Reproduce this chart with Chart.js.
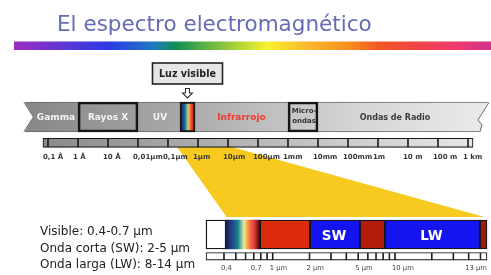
<!DOCTYPE html>
<html><head><meta charset="utf-8">
<script src="https://cdn.jsdelivr.net/npm/chart.js@4.4.1/dist/chart.umd.min.js"></script>
<style>html,body{margin:0;padding:0;background:#fff;overflow:hidden}canvas{display:block}</style>
</head><body>
<canvas id="c" width="491" height="275"></canvas>
<script>
// ---------- DATA ----------
const titleText = 'El espectro electromagnético';
// main spectrum bands (wavelength in metres)
const bandNames = ['Gamma', 'Rayos X', 'UV', 'Visible', 'Infrarrojo', 'Micro-ondas', 'Ondas de Radio'];
const bandStart = [1.58e-12, 1e-10, 1e-8, 2.51e-7, 7.94e-7, 1e-3, 1e-2];
const bandEnd   = [1e-10, 1e-8, 2.51e-7, 7.94e-7, 1e-3, 1e-2, 5400];
const boxedBands = ['Rayos X', 'Visible', 'Micro-ondas'];
// wavelength ruler (metres)
const rulerTicks = [1e-11, 1e-10, 1e-9, 1e-8, 1e-7, 1e-6, 1e-5, 1e-4, 1e-3, 1e-2, 1e-1, 1, 10, 100, 1000];
const rulerLabels = ['0,1 Å', '1 Å', '10 Å', '0,01µm', '0,1µm', '1µm', '10µm', '100µm', '1mm', '10mm', '100mm', '1m', '10 m', '100 m', '1 km'];
const rulerEnds = [6.8e-12, 1470];
// zoomed detail (micrometres)
const detailNames = ['', 'Visible', 'NIR', 'SW', 'MW', 'LW', 'FIR'];
const detailStart = [0.285, 0.415, 0.788, 2.02, 5.18, 8.28, 49.5];
const detailEnd   = [0.415, 0.788, 2.02, 5.18, 8.28, 49.5, 56.5];
const detailTicks = [0.285, 0.4, 0.5, 0.6, 0.7, 0.8, 0.9, 1, 2, 3, 4, 5, 6, 7, 8, 9, 10, 20, 30, 40, 50, 56.5];
const detailLabelValues = [0.4, 0.7, 1, 2, 5, 10, 50];
const detailLabels = ['0,4', '0,7', '1 µm', '2 µm', '5 µm', '10 µm', '13 µm'];
// zoom window: from main-spectrum range to detail range
const zoomFromTop = [2e-7, 1.35e-5];
const zoomToDetail = [0.42, 54];
const notes = ['Visible: 0.4-0.7 µm', 'Onda corta (SW): 2-5 µm', 'Onda larga (LW): 8-14 µm'];

// ---------- LAYOUT / STYLE ----------
const ROW = {band: 117, bandH: 30, ruler: 142.8, rulerH: 9, rulerLbl: 157,
  detail: 234.5, detailH: 29, detRuler: 256.3, detRulerH: 7.5, detLbl: 268,
  zoomTop: 147, zoomBot: 217};
const detailColors = ['#ffffff', null, '#dc2a0c', '#1414ee', '#b31c0c', '#1414ee', '#a01a0a'];

function pairs(arr){ const out=[]; for(let i=0;i<arr.length-1;i++) out.push([arr[i],arr[i+1]]); return out; }

const bandData = [{x: [bandStart[0], bandEnd[bandEnd.length-1]], y: ROW.band}];
const boxData = boxedBands.map(n => { const i = bandNames.indexOf(n); return {x: [bandStart[i], bandEnd[i]], y: ROW.band, name: n}; });
const rulerData = pairs([rulerEnds[0], ...rulerTicks, rulerEnds[1]]).map(p => ({x: p, y: ROW.ruler}));
const detailData = detailStart.map((s, i) => ({x: [s, detailEnd[i]], y: ROW.detail}));
const detRulerData = pairs(detailTicks).map(p => ({x: p, y: ROW.detRuler}));

function grad(chart, scale, a, b, stops, fallback){
  const s = chart.scales[scale];
  if (!s) return fallback;
  const p1 = s.getPixelForValue(a), p2 = s.getPixelForValue(b);
  if (!isFinite(p1) || !isFinite(p2) || p1 === p2) return fallback;
  const g = chart.ctx.createLinearGradient(p1, 0, p2, 0);
  stops.forEach(([o, c]) => g.addColorStop(o, c));
  return g;
}
const visTopStops = [[0,'#15194a'],[0.15,'#1d2f8a'],[0.35,'#1f7a8e'],[0.5,'#9ac8a0'],[0.6,'#f2b04a'],[0.75,'#ee4a34'],[0.9,'#d8261c'],[1,'#8a1010']];
const visDetStops = [[0,'#1a1a48'],[0.1,'#22307c'],[0.25,'#1e5a8c'],[0.36,'#1a8888'],[0.46,'#86c4a2'],[0.53,'#efe6a2'],[0.62,'#f4ac4e'],[0.72,'#f06842'],[0.82,'#e63e3e'],[0.92,'#9a1c18'],[1,'#1e0e0e']];

const spectrumPlugin = {
  id: 'spectrum',
  beforeDatasetsDraw(chart){
    const c = chart.ctx, xT = chart.scales.xTop, xB = chart.scales.xBot, y = chart.scales.y;
    c.save();
    // coloured underline of the title
    const g = c.createLinearGradient(14, 0, 491, 0);
    [[0,'#9a2fc0'],[0.2,'#2b3ae6'],[0.29,'#1f78c4'],[0.34,'#109050'],[0.44,'#8cc63f'],[0.53,'#f7f22e'],[0.62,'#f9b52a'],[0.7,'#f7901e'],[0.76,'#f15a24'],[0.84,'#f04444'],[0.92,'#ef3a6a'],[1,'#d4308f']]
      .forEach(([o, col]) => g.addColorStop(o, col));
    c.fillStyle = g;
    c.fillRect(14, y.getPixelForValue(41.5), 477, y.getPixelForValue(50) - y.getPixelForValue(41.5));
    // zoom trapezoid
    c.beginPath();
    c.moveTo(xT.getPixelForValue(zoomFromTop[0]), y.getPixelForValue(ROW.zoomTop));
    c.lineTo(xT.getPixelForValue(zoomFromTop[1]), y.getPixelForValue(ROW.zoomTop));
    c.lineTo(xB.getPixelForValue(zoomToDetail[1]), y.getPixelForValue(ROW.zoomBot));
    c.lineTo(xB.getPixelForValue(zoomToDetail[0]), y.getPixelForValue(ROW.zoomBot));
    c.closePath();
    c.fillStyle = '#f8c91f';
    c.fill();
    c.restore();
  },
  afterDatasetsDraw(chart){
    const c = chart.ctx, xT = chart.scales.xTop, xB = chart.scales.xBot, y = chart.scales.y;
    const top = ROW.band - ROW.bandH/2, bot = ROW.band + ROW.bandH/2;
    c.save();
    // left notch
    const lx = xT.getPixelForValue(bandStart[0]);
    c.fillStyle = '#fff';
    c.beginPath(); c.moveTo(lx-3, top-1); c.lineTo(lx, top-1); c.lineTo(lx+9.5, ROW.band); c.lineTo(lx, bot+1); c.lineTo(lx-3, bot+1); c.closePath(); c.fill();
    c.strokeStyle = '#6a6a6a'; c.lineWidth = 1;
    c.beginPath(); c.moveTo(lx, top+0.5); c.lineTo(lx+9.5, ROW.band); c.lineTo(lx, bot-0.5); c.stroke();
    // right torn edge
    const rx = xT.getPixelForValue(bandEnd[bandEnd.length-1]);
    c.beginPath(); c.moveTo(rx-1, top-1); c.lineTo(rx-12, ROW.band+3); c.lineTo(rx-8, ROW.band+8); c.lineTo(rx-10, bot+1); c.lineTo(492, bot+1); c.lineTo(492, top-1); c.closePath(); c.fill();
    c.beginPath(); c.moveTo(rx-1, top+0.5); c.lineTo(rx-12, ROW.band+3); c.lineTo(rx-8, ROW.band+8); c.lineTo(rx-10, bot-0.5); c.stroke();

    // band labels
    const labelStyle = {
      'Gamma': ['#f4f4f4', 'bold 9px "DejaVu Sans"', 5],
      'Rayos X': ['#f4f4f4', 'bold 9px "DejaVu Sans"', 0],
      'UV': ['#f4f4f4', 'bold 9px "DejaVu Sans"', 1],
      'Infrarrojo': ['#f23a30', 'bold 9px "DejaVu Sans"', 0],
      'Ondas de Radio': ['#3c3c3c', 'bold 8px "DejaVu Sans"', -9]
    };
    c.textAlign = 'center'; c.textBaseline = 'middle';
    bandNames.forEach((n, i) => {
      const cx = (xT.getPixelForValue(bandStart[i]) + xT.getPixelForValue(bandEnd[i])) / 2;
      if (labelStyle[n]) {
        const [col, font, dx] = labelStyle[n];
        c.fillStyle = col; c.font = font;
        c.fillText(n, cx + dx, y.getPixelForValue(ROW.band + 1));
      } else if (n === 'Micro-ondas') {
        c.fillStyle = '#333'; c.font = 'bold 7px "DejaVu Sans"';
        c.fillText('Micro-', cx + 1, y.getPixelForValue(ROW.band - 5.5));
        c.fillText('ondas', cx + 1, y.getPixelForValue(ROW.band + 4.5));
      }
    });
    // "Luz visible" callout
    const vi = bandNames.indexOf('Visible');
    const vx = (xT.getPixelForValue(bandStart[vi]) + xT.getPixelForValue(bandEnd[vi])) / 2;
    c.fillStyle = '#e6e6e6'; c.fillRect(vx - 35, 63, 70, 21);
    c.strokeStyle = '#222'; c.lineWidth = 1.6; c.strokeRect(vx - 35, 63, 70, 21);
    c.fillStyle = '#222'; c.font = 'bold 9.6px "DejaVu Sans"';
    c.fillText('Luz visible', vx, 74);
    c.lineWidth = 1.1; c.strokeStyle = '#333';
    c.beginPath();
    c.moveTo(vx - 2, 88.5); c.lineTo(vx + 2, 88.5); c.lineTo(vx + 2, 93); c.lineTo(vx + 5, 93);
    c.lineTo(vx, 98); c.lineTo(vx - 5, 93); c.lineTo(vx - 2, 93); c.closePath(); c.stroke();

    // wavelength ruler labels
    c.textAlign = 'left'; c.fillStyle = '#383838'; c.font = 'bold 7px "DejaVu Sans"';
    rulerTicks.forEach((v, i) => c.fillText(rulerLabels[i], xT.getPixelForValue(v) - 5, y.getPixelForValue(ROW.rulerLbl)));

    // detail labels
    c.textAlign = 'center'; c.fillStyle = '#ffffff'; c.font = 'bold 13.5px "DejaVu Sans"';
    ['SW', 'LW'].forEach(n => {
      const i = detailNames.indexOf(n);
      const cx = (xB.getPixelForValue(detailStart[i]) + xB.getPixelForValue(detailEnd[i])) / 2;
      c.fillText(n, cx - 1, y.getPixelForValue(ROW.detail + 1.5));
    });
    c.textAlign = 'left'; c.fillStyle = '#444'; c.font = '6.8px "DejaVu Sans"';
    const rightEnd = xB.getPixelForValue(detailEnd[detailEnd.length-1]);
    detailLabelValues.forEach((v, i) => {
      const w = c.measureText(detailLabels[i]).width;
      const x = Math.min(xB.getPixelForValue(v) - 3, rightEnd - w);
      c.fillText(detailLabels[i], x, y.getPixelForValue(ROW.detLbl));
    });

    // notes
    c.fillStyle = '#222'; c.font = '12px "DejaVu Sans"'; c.textBaseline = 'alphabetic';
    notes.forEach((t, i) => c.fillText(t, 40, 235 + i * 16.5));

    // title
    c.font = '100px "DejaVu Sans"';
    const fs = 100 * 315 / c.measureText(titleText).width;
    c.font = fs.toFixed(2) + 'px "DejaVu Sans"';
    c.fillStyle = '#666cb4';
    c.fillText(titleText, 57, 30.5);
    c.restore();
  }
};

const common = {grouped: false, borderSkipped: false, yAxisID: 'y'};
new Chart(document.getElementById('c'), {
  type: 'bar',
  data: {
    datasets: [
      Object.assign({}, common, {label: 'boxes', order: 1, xAxisID: 'xTop', data: boxData, barThickness: ROW.bandH,
        backgroundColor: ctx => (ctx.raw && ctx.raw.name === 'Visible') ? grad(ctx.chart, 'xTop', ctx.raw.x[0], ctx.raw.x[1], visTopStops, '#c03030') : 'rgba(0,0,0,0)',
        borderColor: '#161616', borderWidth: 2}),
      Object.assign({}, common, {label: 'band', order: 5, xAxisID: 'xTop', data: bandData, barThickness: ROW.bandH,
        backgroundColor: ctx => grad(ctx.chart, 'xTop', bandStart[0], bandEnd[bandEnd.length-1], [[0,'#868686'],[0.35,'#aaaaaa'],[0.7,'#d4d4d4'],[1,'#ebebeb']], '#b0b0b0'),
        borderColor: '#6a6a6a', borderWidth: 1}),
      Object.assign({}, common, {label: 'ruler', order: 3, xAxisID: 'xTop', data: rulerData, barThickness: ROW.rulerH,
        backgroundColor: ctx => grad(ctx.chart, 'xTop', rulerEnds[0], rulerEnds[1], [[0,'#8a8a8a'],[0.5,'#b8b8b8'],[1,'#e8e8e8']], '#b8b8b8'),
        borderColor: '#161616', borderWidth: 1.1}),
      Object.assign({}, common, {label: 'detail', order: 3, xAxisID: 'xBot', data: detailData, barThickness: ROW.detailH,
        backgroundColor: ctx => ctx.dataIndex === 1 ? grad(ctx.chart, 'xBot', detailStart[1], detailEnd[1], visDetStops, '#e08040') : (detailColors[ctx.dataIndex] || '#fff'),
        borderColor: '#161616', borderWidth: ctx => ctx.dataIndex === 1 ? 0 : 1.4}),
      Object.assign({}, common, {label: 'detailRuler', order: 3, xAxisID: 'xBot', data: detRulerData, barThickness: ROW.detRulerH,
        backgroundColor: '#ffffff', borderColor: '#161616', borderWidth: 1.1})
    ]
  },
  options: {
    indexAxis: 'y',
    responsive: false,
    animation: false,
    events: [],
    layout: {padding: 0},
    plugins: {legend: {display: false}, tooltip: {enabled: false}, title: {display: false}},
    scales: {
      xTop: {axis: 'x', type: 'logarithmic', display: false, bounds: 'data', beginAtZero: false,
        min: Math.pow(10, -12.6), max: Math.pow(10, -11 + 443/30)},
      xBot: {axis: 'x', type: 'logarithmic', display: false, bounds: 'data', beginAtZero: false,
        min: Math.pow(10, -2.2292), max: Math.pow(10, 1.78486)},
      y: {type: 'linear', display: false, min: 0, max: 275, reverse: true, offset: false, bounds: 'data'}
    }
  },
  plugins: [spectrumPlugin]
});
</script>
</body></html>
